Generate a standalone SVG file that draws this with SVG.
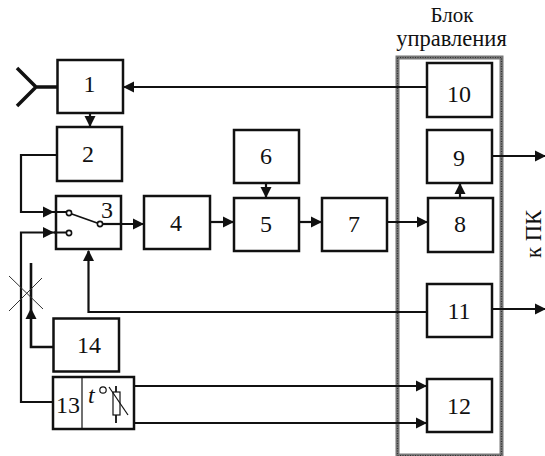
<svg xmlns="http://www.w3.org/2000/svg" width="545" height="456" viewBox="0 0 545 456">
<style>
.b{fill:#fff;stroke:#111;stroke-width:2.5}
.l{fill:none;stroke:#111;stroke-width:2.2}
.a{fill:#111;stroke:none}
.t{font-family:"Liberation Serif",serif;font-size:24px;fill:#111;text-anchor:middle}
.h{font-size:22.500px}
.c{fill:#fff;stroke:#111;stroke-width:1.6}
.f{fill:none;stroke:#111;stroke-width:1.2}
</style>
<defs>
<path id="r" class="a" d="M0,0 L-11,-5.500 L-11,5.500 Z"/>
</defs>
<g id="frame">
<rect x="397.500" y="57.500" width="104" height="398" fill="none" stroke="#777" stroke-width="4"/>
<rect x="397.500" y="57.500" width="104" height="398" fill="none" stroke="#333" stroke-width="1.200" stroke-dasharray="1 1.500"/>
</g>
<g id="connectors">
<path class="l" style="stroke-width:3.500" d="M57,87 H36 M17,68 L36,87 L17,106"/>
<path class="l" d="M427,87 H124"/><use href="#r" transform="translate(123,87) rotate(180)"/>
<path class="l" d="M90,113 V127"/><use href="#r" transform="translate(90,127) rotate(90)"/>
<path class="l" d="M56,155 H21 V212 H69"/><use href="#r" transform="translate(54,212)"/>
<path class="l" d="M52,402 H21 V232.500 H69"/><use href="#r" transform="translate(54,232.500)"/>
<path class="l" style="stroke-width:2.600" d="M31,263 V347 H54"/><use href="#r" transform="translate(31,308) rotate(-90)"/>
<path class="f" style="stroke:#333;stroke-width:1" d="M9,276 L43,309 M9,311 L42,278"/>
<path class="l" d="M100,224 H143"/><use href="#r" transform="translate(144,224)"/>
<path class="l" d="M210,222 H233"/><use href="#r" transform="translate(234,222)"/>
<path class="l" d="M266,183 V198"/><use href="#r" transform="translate(266,198) rotate(90)"/>
<path class="l" d="M299,222 H322"/><use href="#r" transform="translate(322,222)"/>
<path class="l" d="M388,222 H428"/><use href="#r" transform="translate(428,222)"/>
<path class="l" d="M460,198 V183"/><use href="#r" transform="translate(460,183) rotate(-90)"/>
<path class="l" d="M492,156 H545"/><use href="#r" transform="translate(546,156)"/>
<path class="l" d="M426,312 H88.500 V251"/><use href="#r" transform="translate(88.500,250) rotate(-90)"/>
<path class="l" d="M492,309 H545"/><use href="#r" transform="translate(546,309)"/>
<path class="l" d="M116,386 H427"/><use href="#r" transform="translate(427,386)"/>
<path class="l" d="M116,423 H427"/><use href="#r" transform="translate(427,423)"/>
</g>
<g id="n1"><rect class="b" x="57.500" y="60" width="65.500" height="53"/><text class="t" x="89.500" y="92">1</text></g>
<g id="n2"><rect class="b" x="57" y="127" width="65" height="54"/><text class="t" x="88" y="162">2</text></g>
<g id="n3"><rect class="b" x="56" y="196" width="65" height="53"/><text class="t" x="107" y="218">3</text>
<path class="l" d="M54,212 H69 M54,232.500 H69" style="stroke-width:2.200"/><path class="l" d="M69,213 L100,224" style="stroke-width:1.800"/><path class="l" d="M100,224 H121"/><circle class="c" cx="69" cy="213" r="2.600"/><circle class="c" cx="69" cy="233" r="2.600"/><circle class="c" cx="100" cy="224" r="2.600"/></g>
<g id="n4"><rect class="b" x="144" y="196" width="66" height="53"/><text class="t" x="176" y="231">4</text></g>
<g id="n5"><rect class="b" x="234" y="198" width="65" height="53"/><text class="t" x="266" y="232">5</text></g>
<g id="n6"><rect class="b" x="234" y="130" width="65" height="53"/><text class="t" x="266" y="164">6</text></g>
<g id="n7"><rect class="b" x="322" y="198" width="65" height="53"/><text class="t" x="354" y="232">7</text></g>
<g id="n8"><rect class="b" x="428" y="198" width="65" height="54"/><text class="t" x="460" y="232">8</text></g>
<g id="n9"><rect class="b" x="427" y="130" width="65" height="53"/><text class="t" x="459" y="166">9</text></g>
<g id="n10"><rect class="b" x="427" y="63" width="65" height="54"/><text class="t" x="459" y="102">10</text></g>
<g id="n11"><rect class="b" x="427" y="284" width="65" height="53"/><text class="t" x="459" y="319">11</text></g>
<g id="n12"><rect class="b" x="427" y="379" width="65" height="53"/><text class="t" x="459" y="414">12</text></g>
<g id="n14"><rect class="b" x="53.500" y="318.500" width="65.500" height="53"/><text class="t" x="89" y="353">14</text></g>
<g id="n13"><rect class="b" x="53" y="377" width="81" height="52"/><path d="M82,377 V429" stroke="#111" stroke-width="1.200"/><text class="t" x="68" y="413">13</text>
<text x="88" y="403" font-family="Liberation Serif,serif" font-size="24" font-style="italic" fill="#111">t</text>
<circle cx="103" cy="390" r="3.200" fill="none" stroke="#111" stroke-width="1.200"/>
<path class="l" d="M116,386 V392 M116,415 V423" style="stroke-width:1.800"/><rect x="113" y="392" width="7" height="23" fill="#fff" stroke="#111" stroke-width="1.200"/><path class="f" d="M109,387 L128,415"/></g>
<g id="labels">
<text class="t" x="452" y="21.500" style="font-size:21px">Блок</text>
<text class="t h" x="451.500" y="46">управления</text>
<text class="t h" transform="translate(541,234) rotate(-90)">к ПК</text>
</g>
</svg>
